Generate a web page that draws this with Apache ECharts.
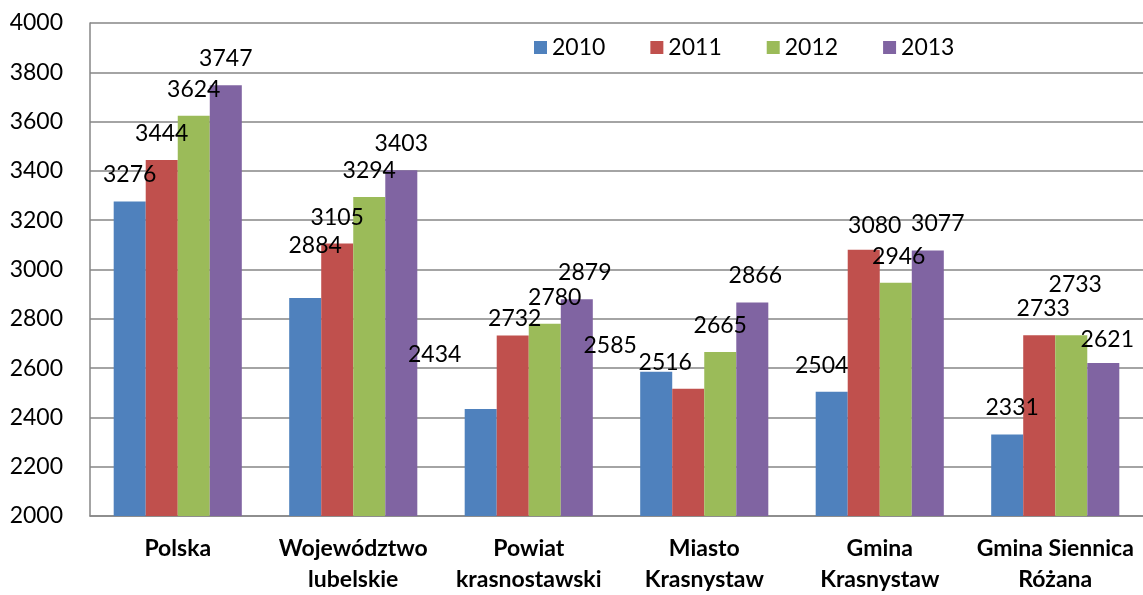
<!DOCTYPE html>
<html>
<head>
<meta charset="utf-8">
<script src="https://cdn.jsdelivr.net/npm/echarts@6/dist/echarts.min.js"></script>
<style>
  html, body { margin: 0; padding: 0; background: #fff; }
  #chart { width: 1143px; height: 595px; }
</style>
</head>
<body>
<div id="chart"></div>
<script>
const categories = ['Polska', 'Województwo\nlubelskie', 'Powiat\nkrasnostawski', 'Miasto\nKrasnystaw', 'Gmina\nKrasnystaw', 'Gmina Siennica\nRóżana']
const years = ['2010', '2011', '2012', '2013']
const v2010 = [3276, 2884, 2434, 2585, 2504, 2331]
const v2011 = [3444, 3105, 2732, 2516, 3080, 2733]
const v2012 = [3624, 3294, 2780, 2665, 2946, 2733]
const v2013 = [3747, 3403, 2879, 2866, 3077, 2621]
const yTicks = { min: 2000, max: 4000, step: 200 }

const colors = ['#4F81BD', '#C0504D', '#9BBB59', '#8064A2']
// label nudges, Excel places some labels oddly
const labelOffsets = [
    [[0, 0], [10, -26], [-46, -28], [-46, 0], [-10, 0], [5, 0]],
    [[0, 0], [0, 0], [2, 10], [-23, 0], [11, 2], [4, 0]],
    [[0, 0], [0, 0], [10, 0], [0, 0], [3, 0], [4, -24]],
    [[0, 0], [0, 0], [8, 0], [3, 0], [10, 0], [4, 3]]
]

const font = 'Lato, "Liberation Sans", sans-serif'
const gray = '#868686'

const chart = echarts.init(document.getElementById('chart'))
const option = {
    animation: false,
    textStyle: { fontFamily: font },
    legend: {
        data: years,
        left: 529,
        top: 31,
        itemWidth: 13,
        itemHeight: 13,
        itemGap: 45,
        icon: 'rect',
        textStyle: { fontSize: 23, color: '#000', fontFamily: font }
    },
    grid: { left: 90, right: 0, top: 23, bottom: 77 },
    xAxis: {
        type: 'category',
        data: categories,
        axisTick: { show: false },
        axisLine: { lineStyle: { color: gray, width: 1.5 } },
        axisLabel: {
            interval: 0,
            margin: 17,
            fontSize: 23,
            fontWeight: 'bold',
            lineHeight: 31,
            color: '#000',
            fontFamily: font
        }
    },
    yAxis: {
        type: 'value',
        min: yTicks.min,
        max: yTicks.max,
        interval: yTicks.step,
        axisLine: { show: true, lineStyle: { color: gray, width: 1.5 } },
        axisTick: { show: false },
        splitLine: { lineStyle: { color: gray, width: 1.5 } },
        axisLabel: {
            fontSize: 23,
            color: '#000',
            margin: 27,
            fontFamily: font,
            formatter: (v) => String(v)
        }
    },
    series: [v2010, v2011, v2012, v2013].map((vals, s) => ({
        name: years[s],
        type: 'bar',
        barGap: '0%',
        barCategoryGap: '27%',
        itemStyle: { color: colors[s] },
        label: {
            show: true,
            position: 'top',
            distance: 15,
            fontSize: 23,
            color: '#000',
            fontFamily: font
        },
        data: vals.map((v, i) => ({ value: v, label: { offset: labelOffsets[s][i] } }))
    }))
}
chart.setOption(option)
</script>
</body>
</html>
